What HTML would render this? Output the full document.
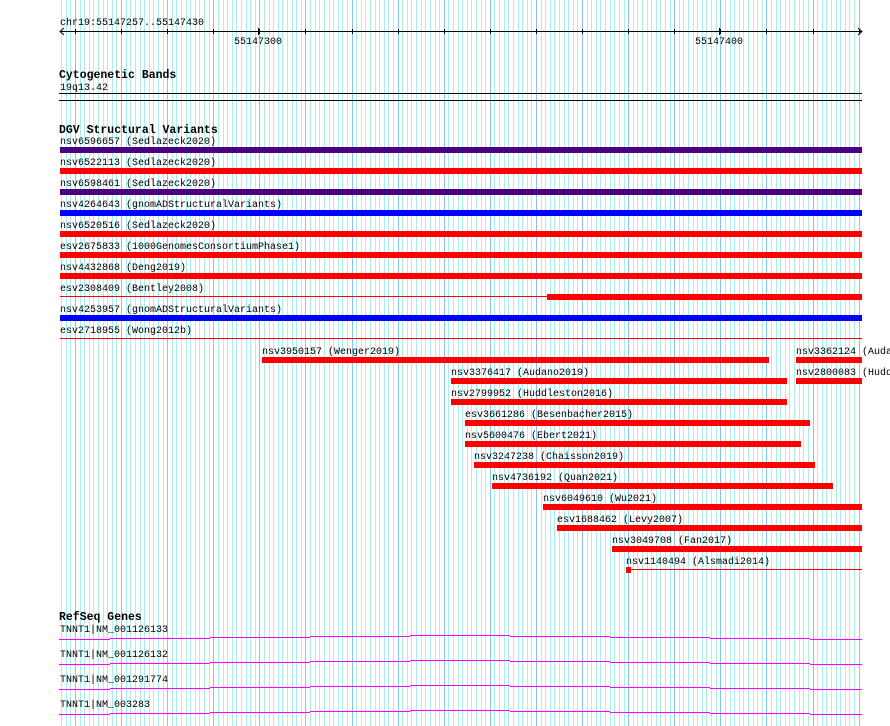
<!DOCTYPE html>
<html><head><meta charset="utf-8"><style>
html,body{margin:0;padding:0;background:#fff;}
svg{display:block;}
text{font-family:"Liberation Mono",monospace;font-size:10px;fill:#000;}
.b{font-weight:bold;font-size:11.5px;}
</style></head><body>
<svg id="s" width="890" height="726" xmlns="http://www.w3.org/2000/svg">
<g id="grid"></g>
<g id="fg"></g>
</svg>
<script>
var NS="http://www.w3.org/2000/svg";
var grid=document.getElementById('grid'),fg=document.getElementById('fg');
function el(p,tag,a,t){var e=document.createElementNS(NS,tag);for(var k in a)e.setAttribute(k,a[k]);if(t!==undefined)e.textContent=t;p.appendChild(e);return e;}
var px=4.6094;
for(var j=-3;j<=171;j++){var x=Math.round(75+px*j);if(x<60||x>862)continue;
 var dark=(j%10===0);
 el(grid,'rect',{x:x,y:0,width:1,height:726,fill:dark?'#88c4ee':'#aaeeee'});}
// axis
el(fg,'text',{x:60,y:25},'chr19:55147257..55147430');
el(fg,'rect',{x:60,y:31,width:802,height:1,fill:'#000'});
el(fg,'path',{d:'M64 28 L60 31.5 L64 35 M858 28 L862 31.5 L858 35',stroke:'#000',fill:'none','stroke-width':1});
for(var j=0;j<=17;j++){var x=Math.round(75+px*10*j)+0.5;if(x>860)continue;
 el(fg,'line',{x1:x,y1:29,x2:x,y2:34,stroke:'#000','stroke-width':1});}
el(fg,'line',{x1:258.5,y1:28,x2:258.5,y2:35,stroke:'#000'});
el(fg,'line',{x1:719.5,y1:28,x2:719.5,y2:35,stroke:'#000'});
el(fg,'text',{x:258,y:44,'text-anchor':'middle'},'55147300');
el(fg,'text',{x:719,y:44,'text-anchor':'middle'},'55147400');
// cyto
el(fg,'text',{x:59,y:78,'class':'b'},'Cytogenetic Bands');
el(fg,'text',{x:60,y:90},'19q13.42');
el(fg,'rect',{x:59,y:93,width:803,height:1,fill:'#000'});
el(fg,'rect',{x:59,y:100,width:803,height:1,fill:'#000'});
// DGV
el(fg,'text',{x:59,y:133,'class':'b'},'DGV Structural Variants');
var R='#ff0000',P='#4b0082',B='#0000ff';
var rows=[
['nsv6596657 (Sedlazeck2020)',60,P],['nsv6522113 (Sedlazeck2020)',60,R],['nsv6598461 (Sedlazeck2020)',60,P],
['nsv4264643 (gnomADStructuralVariants)',60,B],['nsv6520516 (Sedlazeck2020)',60,R],['esv2675833 (1000GenomesConsortiumPhase1)',60,R],
['nsv4432868 (Deng2019)',60,R],['esv2308409 (Bentley2008)',547,R],['nsv4253957 (gnomADStructuralVariants)',60,B]];
rows.forEach(function(r,i){var y=147+21*i;
 el(fg,'text',{x:60,y:y-3},r[0]);
 if(r[1]>60)el(fg,'rect',{x:60,y:y+2,width:r[1]-60,height:1,fill:R});
 el(fg,'rect',{x:r[1],y:y,width:862-r[1],height:6,fill:r[2]});});
el(fg,'text',{x:60,y:333},'esv2718955 (Wong2012b)');
el(fg,'rect',{x:60,y:338,width:802,height:1,fill:R});
var low=[
['nsv3950157 (Wenger2019)',262,769,357],['nsv3362124 (Audano2019)',796,862,357],
['nsv3376417 (Audano2019)',451,787,378],['nsv2800083 (Huddleston2016)',796,862,378],
['nsv2799952 (Huddleston2016)',451,787,399],['esv3661286 (Besenbacher2015)',465,810,420],
['nsv5600476 (Ebert2021)',465,801,441],['nsv3247238 (Chaisson2019)',474,815,462],
['nsv4736192 (Quan2021)',492,833,483],['nsv6049610 (Wu2021)',543,862,504],
['esv1688462 (Levy2007)',557,862,525],['nsv3049708 (Fan2017)',612,862,546]];
low.forEach(function(r){el(fg,'text',{x:r[1],y:r[3]-3},r[0]);
 el(fg,'rect',{x:r[1],y:r[3],width:r[2]-r[1],height:6,fill:R});});
el(fg,'text',{x:626,y:564},'nsv1140494 (Alsmadi2014)');
el(fg,'rect',{x:626,y:567,width:5,height:6,fill:R});
el(fg,'rect',{x:631,y:569,width:231,height:1,fill:R});
// RefSeq
el(fg,'text',{x:59,y:620,'class':'b'},'RefSeq Genes');
var genes=['TNNT1|NM_001126133','TNNT1|NM_001126132','TNNT1|NM_001291774','TNNT1|NM_003283'];
var segs=[[59,110,4],[110,210,3],[210,310,2],[310,410,1],[410,510,0],[510,610,1],[610,710,2],[710,810,3],[810,862,4]];
genes.forEach(function(g,i){var base=635+25*i;
 el(fg,'text',{x:60,y:base-3},g);
 segs.forEach(function(s){el(fg,'rect',{x:s[0],y:base+s[2],width:s[1]-s[0],height:1,fill:'#ff00ff'});});});
</script>
</body></html>
